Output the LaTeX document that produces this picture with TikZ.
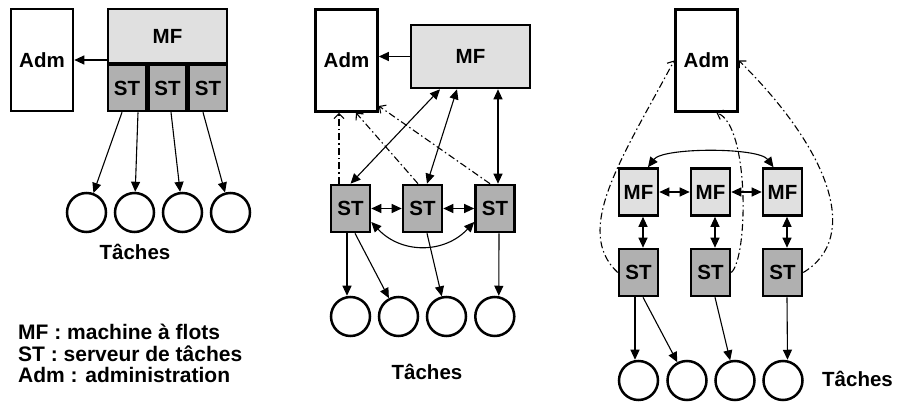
\documentclass[tikz,border=0pt]{standalone}
\usepackage{fontspec}
\setmainfont{Liberation Sans}
\usetikzlibrary{arrows.meta}
\definecolor{mfgray}{RGB}{224,224,224}
\definecolor{stgray}{RGB}{176,176,176}

\begin{document}
\begin{tikzpicture}[x=1pt,y=-1pt,
  font=\fontsize{20.5}{22}\selectfont\bfseries,
  box/.style={draw, line width=2.6pt, inner sep=0pt},
  admbox/.style={box, fill=white, minimum width=62pt, minimum height=102pt},
  mfbox/.style={box, fill=mfgray},
  stbox/.style={box, fill=stgray},
  cell/.style={minimum width=39pt, minimum height=47pt},
  task/.style={circle, draw, line width=2.5pt, minimum size=39pt, inner sep=0pt},
  label/.style={anchor=base, inner sep=0pt},
  legend/.style={anchor=base west, inner sep=0pt, font=\fontsize{21}{22}\selectfont\bfseries},
  arr/.style={line width=1.1pt, -{Triangle[length=10pt,width=9pt]}},
  dbl/.style={line width=1.1pt, {Triangle[length=10pt,width=9pt]}-{Triangle[length=10pt,width=9pt]}},
  ctl/.style={line width=1.1pt, dash pattern=on 7pt off 3pt on 1.5pt off 3pt,
    -{Straight Barb[length=5pt,width=10pt]}},
]
\useasboundingbox (0,0) rectangle (898,403);

% ---------- centralised layout ----------
\node[admbox] (adm1) at (42,60) {Adm};
\node[mfbox, minimum width=119pt, minimum height=54pt] (mf1) at (167.5,36) {MF};
\node[stbox, minimum width=38pt, minimum height=46pt] (st11) at (127,88) {ST};
\node[stbox, minimum width=38pt, minimum height=46pt] (st12) at (167.5,88) {ST};
\node[stbox, minimum width=38pt, minimum height=46pt] (st13) at (208,88) {ST};
\draw[arr] (mf1.west |- adm1.east) -- (adm1.east);

\node[task] (c11) at (86.5,212.5) {};
\node[task] (c12) at (134.5,212.5) {};
\node[task] (c13) at (182.5,212.5) {};
\node[task] (c14) at (230.5,212.5) {};
\draw[arr] ([xshift=-5pt]st11.south) -- (c11);
\draw[arr] ([xshift=11pt]st11.south) -- (c12);
\draw[arr] ([xshift=3.5pt]st12.south) -- (c13);
\draw[arr] ([xshift=-5pt]st13.south) -- (c14);
\node[label] (t1) at (135,260) {Tâches};

% ---------- one flow machine, distributed task servers ----------
\node[admbox] (adm2) at (346.5,60.5) {Adm};
\node[mfbox, minimum width=119pt, minimum height=63pt] (mf2) at (470.5,56.5) {MF};
\draw[arr] (mf2.west) -- (mf2.west -| adm2.east);

\node[stbox, cell] (st21) at (350.5,208.5) {ST};
\node[stbox, cell] (st22) at (422.5,208.5) {ST};
\node[stbox, cell] (st23) at (495,208.5) {ST};
\draw[dbl] (st21) -- (st22);
\draw[dbl] (st22) -- (st23);
\draw[dbl] ([yshift=-13.5pt]st21.east) .. controls +(30,32) and +(-30,32) .. ([yshift=-13.5pt]st23.west);

\draw[dbl] ([xshift=-30.5pt]mf2.south) -- (st21.north);
\draw[dbl] ([xshift=-13.5pt]mf2.south) -- ([xshift=4.5pt]st22.north);
\draw[dbl] ([xshift=27.5pt]mf2.south) -- ([xshift=3pt]st23.north);

\draw[ctl] ([xshift=-11.5pt]st21.north) -- ([xshift=-7.5pt]adm2.south);
\draw[ctl] ([xshift=-4.5pt]st22.north) -- ([xshift=9.5pt]adm2.south);
\draw[ctl] ([xshift=-5pt]st23.north) -- ([yshift=-45.5pt]adm2.east);

\node[task] (c21) at (350.5,316.5) {};
\node[task] (c22) at (398.5,316.5) {};
\node[task] (c23) at (446.5,316.5) {};
\node[task] (c24) at (494.8,316.5) {};
\draw[arr] ([xshift=-3.5pt]st21.south) -- ([xshift=-3.5pt]c21.north);
\draw[arr] ([xshift=4.5pt]st21.south) -- (c22);
\draw[arr] ([xshift=4.5pt]st22.south) -- (c23);
\draw[arr] ([xshift=4pt]st23.south) -- ([xshift=4pt]c24.north);
\node[label] (t2) at (427,380) {Tâches};

% ---------- fully distributed layout ----------
\node[admbox] (adm3) at (706.5,60.5) {Adm};
\node[mfbox, cell] (mf31) at (638.5,192) {MF};
\node[mfbox, cell] (mf32) at (710.5,192) {MF};
\node[mfbox, cell] (mf33) at (782.5,192) {MF};
\node[stbox, cell] (st31) at (638.5,272.5) {ST};
\node[stbox, cell] (st32) at (710.5,272.5) {ST};
\node[stbox, cell] (st33) at (782.5,272.5) {ST};

\draw[dbl] (mf31) -- (mf32);
\draw[dbl] (mf32) -- (mf33);
\draw[dbl] ([xshift=9.5pt]mf31.north) .. controls +(15,-20) and +(-15,-20) .. ([xshift=-9pt]mf33.north);
\draw[dbl] ([xshift=4.5pt]mf31.south) -- ([xshift=4.5pt]st31.north);
\draw[dbl] ([xshift=4.5pt]mf32.south) -- ([xshift=4.5pt]st32.north);
\draw[dbl] ([xshift=4.5pt]mf33.south) -- ([xshift=4.5pt]st33.north);

\draw[ctl] (st31.west) .. controls +(-45,-42) and +(-52.5,98) .. (adm3.west);
\draw[ctl] (st32.east) .. controls +(17,-15) and +(33,12) .. ([xshift=10pt]adm3.south);
\draw[ctl] (st33.east) .. controls +(58,-35) and +(91,90) .. (adm3.east);

\node[task] (c31) at (638.5,380.5) {};
\node[task] (c32) at (687,380.5) {};
\node[task] (c33) at (735,380.5) {};
\node[task] (c34) at (783,380.5) {};
\draw[arr] ([xshift=-3.5pt]st31.south) -- ([xshift=-3.5pt]c31.north);
\draw[arr] ([xshift=4.5pt]st31.south) -- (c32);
\draw[arr] ([xshift=4.5pt]st32.south) -- (c33);
\draw[arr] ([xshift=4.5pt]st33.south) -- ([xshift=4.5pt]c34.north);
\node[label] (t3) at (857.5,387) {Tâches};

% ---------- legend ----------
\node[legend] (leg1) at (18,340) {MF : machine à flots};
\node[legend] (leg2) at (18,361.5) {ST : serveur de tâches};
\node[legend] (leg3) at (18,383) {Adm : administration};
\end{tikzpicture}
\end{document}
